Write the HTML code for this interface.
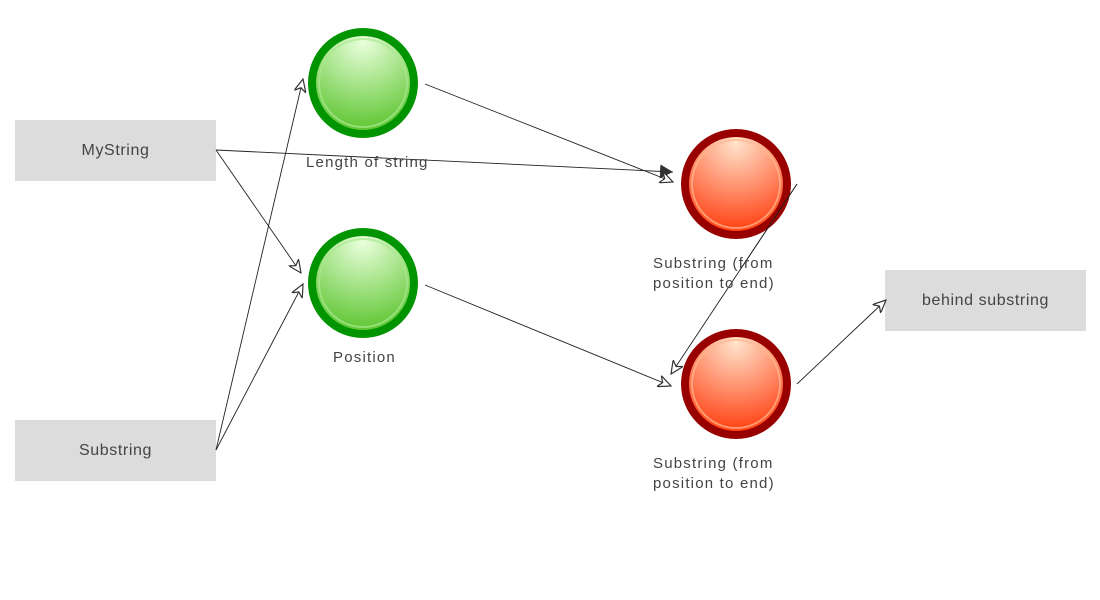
<!DOCTYPE html>
<html><head><style>
body{margin:0;width:1100px;height:600px;background:#fff;overflow:hidden;font-family:"Liberation Sans",sans-serif}
.box{position:absolute;background:#dcdcdc;width:201px;height:61px;display:flex;align-items:center;justify-content:center;font-size:16px;color:#444;letter-spacing:0.6px}
.lbl{position:absolute;font-size:15px;color:#444;letter-spacing:1.2px;line-height:20px}
svg{position:absolute;left:0;top:0}
</style></head><body>
<div class="box" style="left:15px;top:120px">MyString</div>
<div class="box" style="left:15px;top:420px">Substring</div>
<div class="box" style="left:885px;top:270px">behind substring</div>
<svg width="1100" height="600">
<defs>
<radialGradient id="g" cx="50%" cy="10%" r="95%"><stop offset="0" stop-color="#eaffdc"/><stop offset="1" stop-color="#4fc020"/></radialGradient>
<radialGradient id="r" cx="50%" cy="10%" r="95%"><stop offset="0" stop-color="#ffe4cc"/><stop offset="1" stop-color="#ff3000"/></radialGradient>
<marker id="a" markerWidth="14" markerHeight="12" refX="13" refY="6" orient="auto" markerUnits="userSpaceOnUse"><path d="M0,0 L13,6 L0,12 L4,6 Z" fill="#fff" stroke="#333" stroke-width="1.2"/></marker>
<marker id="f" markerWidth="14" markerHeight="14" refX="13" refY="7" orient="auto" markerUnits="userSpaceOnUse"><path d="M0,0 L13,7 L0,14 Z" fill="#333"/></marker>
</defs>
<g stroke="#222" stroke-width="0.9" fill="none">
<line x1="216" y1="150" x2="673" y2="172" marker-end="url(#f)"/>
<line x1="216" y1="150" x2="301" y2="273" marker-end="url(#a)"/>
<line x1="216" y1="450" x2="303" y2="79" marker-end="url(#a)"/>
<line x1="216" y1="450" x2="303" y2="284" marker-end="url(#a)"/>
<line x1="425" y1="84" x2="673" y2="182" marker-end="url(#a)"/>
<line x1="425" y1="285" x2="671" y2="386" marker-end="url(#a)"/>
<line x1="797" y1="184" x2="671" y2="374" marker-end="url(#a)"/>
<line x1="797" y1="384" x2="886" y2="300" marker-end="url(#a)"/>
</g>
<g>
<circle cx="363" cy="83" r="51" fill="url(#g)" stroke="#009400" stroke-width="8"/>
<circle cx="363" cy="83" r="44" fill="none" stroke="#a8e890" stroke-width="2" opacity="0.7"/>
<circle cx="363" cy="283" r="51" fill="url(#g)" stroke="#009400" stroke-width="8"/>
<circle cx="363" cy="283" r="44" fill="none" stroke="#a8e890" stroke-width="2" opacity="0.7"/>
<circle cx="736" cy="184" r="51" fill="url(#r)" stroke="#990000" stroke-width="8"/>
<circle cx="736" cy="184" r="44" fill="none" stroke="#ffb890" stroke-width="2" opacity="0.7"/>
<circle cx="736" cy="384" r="51" fill="url(#r)" stroke="#990000" stroke-width="8"/>
<circle cx="736" cy="384" r="44" fill="none" stroke="#ffb890" stroke-width="2" opacity="0.7"/>
</g>
<line x1="797" y1="184" x2="740" y2="270" stroke="#222" stroke-width="0.9"/>
</svg>
<div class="lbl" style="left:306px;top:153px">Length of string</div>
<div class="lbl" style="left:333px;top:348px">Position</div>
<div class="lbl" style="left:653px;top:254px">Substring (from<br>position to end)</div>
<div class="lbl" style="left:653px;top:454px">Substring (from<br>position to end)</div>
</body></html>
